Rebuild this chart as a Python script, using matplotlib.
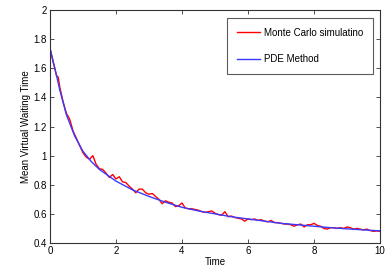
import numpy as np
import matplotlib
matplotlib.use('Agg')
import matplotlib.pyplot as plt

# ============================================
# DATOS
# ============================================
t_pde = [0.0, 0.15, 0.3, 0.5, 0.75, 1.0, 1.25, 1.5, 2.0, 2.5, 3.0, 3.5, 4.0,
         4.5, 5.0, 5.5, 6.0, 6.5, 7.0, 7.5, 8.0, 8.5, 9.0, 9.5, 10.0]
v_pde = [1.74, 1.60, 1.45, 1.28, 1.135, 1.03, 0.96, 0.905, 0.825, 0.765, 0.72,
         0.68, 0.645, 0.62, 0.60, 0.58, 0.565, 0.55, 0.535, 0.525, 0.515,
         0.505, 0.497, 0.49, 0.483]

t_mc = [0.0, 0.1, 0.2, 0.25, 0.3, 0.4, 0.5, 0.55, 0.6, 0.7, 0.8, 0.9,
        1.0, 1.1, 1.2, 1.3, 1.4, 1.5, 1.6, 1.7, 1.8, 1.9,
        2.0, 2.1, 2.2, 2.3, 2.4, 2.5, 2.6, 2.7, 2.8, 2.9,
        3.0, 3.1, 3.2, 3.3, 3.4, 3.5, 3.6, 3.7, 3.8, 3.9,
        4.0, 4.1, 4.2, 4.3, 4.4, 4.5, 4.6, 4.7, 4.8, 4.9,
        5.0, 5.1, 5.2, 5.3, 5.4, 5.5, 5.6, 5.7, 5.8, 5.9,
        6.0, 6.1, 6.2, 6.3, 6.4, 6.5, 6.6, 6.7, 6.8, 6.9,
        7.0, 7.1, 7.2, 7.3, 7.4, 7.5, 7.6, 7.7, 7.8, 7.9,
        8.0, 8.1, 8.2, 8.3, 8.4, 8.5, 8.6, 8.7, 8.8, 8.9,
        9.0, 9.1, 9.2, 9.3, 9.4, 9.5, 9.6, 9.7, 9.8, 9.9, 10.0]
v_mc = [1.74, 1.64, 1.55, 1.54, 1.47, 1.37, 1.29, 1.27, 1.25, 1.17, 1.12, 1.07,
        1.02, 0.99, 0.975, 1.0, 0.94, 0.91, 0.905, 0.88, 0.85, 0.87,
        0.84, 0.855, 0.82, 0.815, 0.79, 0.77, 0.745, 0.77, 0.77, 0.745,
        0.735, 0.74, 0.72, 0.70, 0.67, 0.69, 0.68, 0.675, 0.65, 0.655,
        0.675, 0.64, 0.635, 0.635, 0.63, 0.625, 0.615, 0.61, 0.615, 0.62,
        0.605, 0.595, 0.59, 0.615, 0.58, 0.585, 0.575, 0.57, 0.565, 0.55,
        0.565, 0.56, 0.565, 0.555, 0.56, 0.55, 0.545, 0.555, 0.54, 0.54,
        0.535, 0.53, 0.53, 0.525, 0.515, 0.525, 0.53, 0.51, 0.525, 0.525,
        0.535, 0.52, 0.515, 0.50, 0.495, 0.505, 0.505, 0.50, 0.505, 0.50,
        0.51, 0.505, 0.495, 0.50, 0.495, 0.49, 0.495, 0.485, 0.48, 0.483, 0.48]

# ============================================
# GRÁFICA
# ============================================
plt.rcParams['font.family'] = ['Liberation Sans', 'DejaVu Sans']
fig = plt.figure(figsize=(3.87, 2.73), dpi=100)
ax = fig.add_axes([0.129, 0.110, 0.853, 0.853])

ax.plot(t_mc, v_mc, color='red', linewidth=1.0, label='Monte Carlo simulatino')
ax.plot(t_pde, v_pde, color='#3a3aff', linewidth=1.0, label='PDE Method')

ax.set_xlim(0, 10)
ax.set_ylim(0.4, 2)
ax.set_xticks([0, 2, 4, 6, 8, 10])
ax.set_yticks([0.4, 0.6, 0.8, 1, 1.2, 1.4, 1.6, 1.8, 2])
ax.set_yticklabels(['0.4', '0.6', '0.8', '1', '1.2', '1.4', '1.6', '1.8', '2'])
ax.tick_params(direction='in', top=True, right=True, labelsize=7, length=3,
               width=0.6, pad=2, colors='#333333', labelcolor='black')
for s in ax.spines.values():
    s.set_linewidth(0.8)
    s.set_color('#333333')

ax.set_xlabel('Time', fontsize=7, labelpad=1)
ax.set_ylabel('Mean Virtual Waiting Time', fontsize=7, labelpad=2)

# Leyenda estilo MATLAB (caja ancha, texto a la izquierda)
leg = ax.legend(loc='upper left', bbox_to_anchor=(0.5866, 0.934, 0.3773, 0.0),
                bbox_transform=fig.transFigure, mode='expand', fontsize=7,
                frameon=True, fancybox=False, edgecolor='#333333',
                handlelength=2.4, labelspacing=1.7, borderpad=1.0,
                handletextpad=0.45, borderaxespad=0)
leg.get_frame().set_linewidth(0.8)

fig.savefig('out.png', dpi=100)
plt.close()
